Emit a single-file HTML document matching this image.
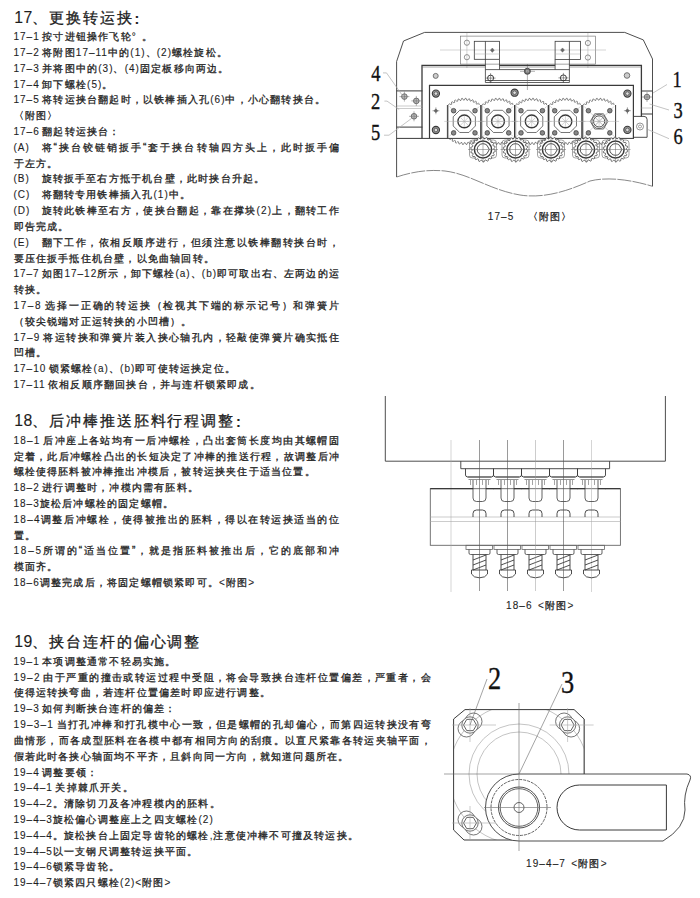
<!DOCTYPE html>
<html><head><meta charset="utf-8">
<style>
html,body{margin:0;padding:0;background:#fff;width:700px;height:898px;overflow:hidden}
svg{display:block}
text{font-family:"Liberation Sans",sans-serif;font-size:10px;letter-spacing:1px;word-spacing:-1.3px;fill:#1e1e1e;white-space:pre;stroke:#1e1e1e;stroke-width:0.1px}
.c{stroke:#1e1e1e;stroke-width:0.3px;letter-spacing:1.2px}
text.t{font-size:15px;letter-spacing:1.9px}
text.t:not(:has(tspan)){letter-spacing:0.4px;font-size:15.8px}
text.t .c{stroke-width:0.3px;letter-spacing:1.9px}
text.cap{font-size:10px;letter-spacing:1.1px;word-spacing:1.5px}
</style></head><body>
<svg width="700" height="898" viewBox="0 0 700 898">
<rect width="700" height="898" fill="#fff"/>
<text x="14.3" y="22.90" class="t">17</text>
<text x="32.3" y="22.90" class="t"><tspan class="c">、更换转运挟</tspan><tspan dx="0.8" dy="1" style="font-weight:bold;font-size:14.5px">:</tspan></text>
<text x="13.5" y="40.07">17–1 <tspan class="c">按寸进钮操作飞轮</tspan>°  <tspan class="c">。</tspan></text>
<text x="13.5" y="55.89">17–2 <tspan class="c">将附图</tspan>17–11<tspan class="c">中的</tspan>(1)<tspan class="c">、</tspan>(2)<tspan class="c">螺栓旋松。</tspan></text>
<text x="13.5" y="71.71">17–3 <tspan class="c">并将图中的</tspan>(3)<tspan class="c">、</tspan>(4)<tspan class="c">固定板移向两边。</tspan></text>
<text x="13.5" y="87.53">17–4 <tspan class="c">卸下螺栓</tspan>(5)<tspan class="c">。</tspan></text>
<text x="13.5" y="103.35">17–5 <tspan class="c">将转运挟台翻起时，以铁棒插入孔</tspan>(6)<tspan class="c">中，小心翻转挟台。</tspan></text>
<text x="13.5" y="119.17"><tspan class="c">〈附图〉</tspan></text>
<text x="13.5" y="134.99">17–6 <tspan class="c">翻起转运挟台：</tspan></text>
<text x="13.5" y="150.81">(A)</text>
<text x="41.5" y="150.81" textLength="298.5" lengthAdjust="spacing"><tspan class="c">将“挟台铰链销扳手“套于挟台转轴四方头上，此时扳手偏</tspan></text>
<text x="13.5" y="166.63"><tspan class="c">于左方。</tspan></text>
<text x="13.5" y="182.45">(B)</text>
<text x="41.5" y="182.45"><tspan class="c">旋转扳手至右方抵于机台壁，此时挟台升起。</tspan></text>
<text x="13.5" y="198.27">(C)</text>
<text x="41.5" y="198.27"><tspan class="c">将翻转专用铁棒插入孔</tspan>(1)<tspan class="c">中。</tspan></text>
<text x="13.5" y="214.09">(D)</text>
<text x="41.5" y="214.09" textLength="298.5" lengthAdjust="spacing"><tspan class="c">旋转此铁棒至右方，使挟台翻起，靠在撑块</tspan>(2)<tspan class="c">上，翻转工作</tspan></text>
<text x="13.5" y="229.91"><tspan class="c">即告完成。</tspan></text>
<text x="13.5" y="245.73">(E)</text>
<text x="41.5" y="245.73" textLength="298.5" lengthAdjust="spacing"><tspan class="c">翻下工作，依相反顺序进行，但须注意以铁棒翻转挟台时，</tspan></text>
<text x="13.5" y="261.55"><tspan class="c">要压住扳手抵住机台壁，以免曲轴回转。</tspan></text>
<text x="13.5" y="277.37" textLength="326.5" lengthAdjust="spacing">17–7 <tspan class="c">如图</tspan>17–12<tspan class="c">所示，卸下螺栓</tspan>(a)<tspan class="c">、</tspan>(b)<tspan class="c">即可取出右、左两边的运</tspan></text>
<text x="13.5" y="293.19"><tspan class="c">转挟。</tspan></text>
<text x="13.5" y="309.01" textLength="326.5" lengthAdjust="spacing">17–8 <tspan class="c">选择一正确的转运挟（检视其下端的标示记号）和弹簧片</tspan></text>
<text x="13.5" y="324.83"><tspan class="c">（较尖锐端对正运转挟的小凹槽）。</tspan></text>
<text x="13.5" y="340.65" textLength="326.5" lengthAdjust="spacing">17–9 <tspan class="c">将运转挟和弹簧片装入挟心轴孔内，轻敲使弹簧片确实抵住</tspan></text>
<text x="13.5" y="356.47"><tspan class="c">凹槽。</tspan></text>
<text x="13.5" y="372.29">17–10 <tspan class="c">锁紧螺栓</tspan>(a)<tspan class="c">、</tspan>(b)<tspan class="c">即可使转运挟定位。</tspan></text>
<text x="13.5" y="388.11">17–11 <tspan class="c">依相反顺序翻回挟台，并与连杆锁紧即成。</tspan></text>
<text x="14.3" y="426.05" class="t">18</text>
<text x="32.3" y="426.05" class="t"><tspan class="c">、后冲棒推送胚料行程调整</tspan><tspan dx="0.8" dy="1" style="font-weight:bold;font-size:14.5px">:</tspan></text>
<text x="13.5" y="443.75" textLength="326.5" lengthAdjust="spacing">18–1 <tspan class="c">后冲座上各站均有一后冲螺栓，凸出套筒长度均由其螺帽固</tspan></text>
<text x="13.5" y="459.57" textLength="326.5" lengthAdjust="spacing"><tspan class="c">定着，此后冲螺栓凸出的长短决定了冲棒的推送行程，故调整后冲</tspan></text>
<text x="13.5" y="475.39"><tspan class="c">螺栓使得胚料被冲棒推出冲模后，被转运挟夹住于适当位置。</tspan></text>
<text x="13.5" y="491.21">18–2 <tspan class="c">进行调整时，冲模内需有胚料。</tspan></text>
<text x="13.5" y="507.03">18–3<tspan class="c">旋松后冲螺栓的固定螺帽。</tspan></text>
<text x="13.5" y="522.85" textLength="326.5" lengthAdjust="spacing">18–4<tspan class="c">调整后冲螺栓，使得被推出的胚料，得以在转运挟适当的位</tspan></text>
<text x="13.5" y="538.67"><tspan class="c">置。</tspan></text>
<text x="13.5" y="554.49" textLength="326.5" lengthAdjust="spacing">18–5<tspan class="c">所谓的“适当位置”，就是指胚料被推出后，它的底部和冲</tspan></text>
<text x="13.5" y="570.31"><tspan class="c">模面齐。</tspan></text>
<text x="13.5" y="586.13">18–6<tspan class="c">调整完成后，将固定螺帽锁紧即可。</tspan>&lt;<tspan class="c">附图</tspan>&gt;</text>
<text x="14.3" y="647.40" class="t">19</text>
<text x="32.3" y="647.40" class="t"><tspan class="c">、挟台连杆的偏心调整</tspan></text>
<text x="13.5" y="664.80">19–1 <tspan class="c">本项调整通常不轻易实施。</tspan></text>
<text x="13.5" y="680.62" textLength="418.5" lengthAdjust="spacing">19–2 <tspan class="c">由于严重的撞击或转运过程中受阻，将会导致挟台连杆位置偏差，严重者，会</tspan></text>
<text x="13.5" y="696.44"><tspan class="c">使得运转挟弯曲，若连杆位置偏差时即应进行调整。</tspan></text>
<text x="13.5" y="712.26">19–3 <tspan class="c">如何判断挟台连杆的偏差：</tspan></text>
<text x="13.5" y="728.08" textLength="418.5" lengthAdjust="spacing">19–3–1 <tspan class="c">当打孔冲棒和打孔模中心一致，但是螺帽的孔却偏心，而第四运转挟没有弯</tspan></text>
<text x="13.5" y="743.90" textLength="418.5" lengthAdjust="spacing"><tspan class="c">曲情形，而各成型胚料在各模中都有相同方向的刮痕。以直尺紧靠各转运夹轴平面，</tspan></text>
<text x="13.5" y="759.72"><tspan class="c">假若此时各挟心轴面均不平齐，且斜向同一方向，就知道问题所在。</tspan></text>
<text x="13.5" y="775.54">19–4 <tspan class="c">调整要领：</tspan></text>
<text x="13.5" y="791.36">19–4–1 <tspan class="c">关掉棘爪开关。</tspan></text>
<text x="13.5" y="807.18">19–4–2<tspan class="c">。清除切刀及各冲程模内的胚料。</tspan></text>
<text x="13.5" y="823.00">19–4–3<tspan class="c">旋松偏心调整座上之四支螺栓</tspan>(2)</text>
<text x="13.5" y="838.82">19–4–4<tspan class="c">。旋松挟台上固定导齿轮的螺栓</tspan>,<tspan class="c">注意使冲棒不可撞及转运挟。</tspan></text>
<text x="13.5" y="854.64">19–4–5<tspan class="c">以一支钢尺调整转运挟平面。</tspan></text>
<text x="13.5" y="870.46">19–4–6<tspan class="c">锁紧导齿轮。</tspan></text>
<text x="13.5" y="886.28">19–4–7<tspan class="c">锁紧四只螺栓</tspan>(2)&lt;<tspan class="c">附图</tspan>&gt;</text>
<text x="487.8" y="219.7" class="cap">17–5</text>
<text x="527.5" y="219.7" class="cap"><tspan class="c">〈附图〉</tspan></text>
<text x="506" y="608.6" class="cap">18–6 &lt;<tspan class="c">附图</tspan>&gt;</text>
<text x="526" y="867.1" class="cap">19–4–7 &lt;<tspan class="c">附图</tspan>&gt;</text>
<g fill="none" stroke="#3a3a3a" stroke-width="0.9">
<path d="M396.6,177 V61.5 L403.5,41 L424.6,32.4 H624.7 L643.3,39.9 L652.5,59 V186.3"/>
<path d="M396.6,177 C415,171 430,169.5 445,171 C470,174 490,190 520,195 C545,199 570,190 590,181 C610,176 635,181 652.5,186.3" stroke="#555" stroke-width="0.7" stroke-dasharray="14 1.2"/>
<rect x="460.6" y="36.1" width="134.8" height="28" stroke="#666" stroke-width="0.6"/>
<path d="M440,50 H606 M466.9,33 V68 M587.9,33 V68" stroke="#aaa" stroke-width="0.5"/>
<circle cx="466.9" cy="42.7" r="2.6" stroke="#666" stroke-width="0.7"/>
<circle cx="466.9" cy="57.2" r="2.6" stroke="#666" stroke-width="0.7"/>
<circle cx="587.9" cy="43" r="2.6" stroke="#666" stroke-width="0.7"/>
<circle cx="587.9" cy="57.5" r="2.6" stroke="#666" stroke-width="0.7"/>
<rect x="474.3" y="41.3" width="25.2" height="18" stroke-width="0.8"/>
<rect x="555.1" y="41.3" width="25.4" height="18.1" stroke-width="0.8"/>
<path d="M485.4,41.3 V82.5 M499.5,59.3 V69.6 M555.1,59.4 V69.6 M569.4,41.3 V82.5" stroke-width="0.8"/>
<path d="M474.3,54 H499.5 M555.1,54 H580.5" stroke="#aaa" stroke-width="0.5"/>
<path d="M490.3,50.2 L492.3,48.0 L494.3,50.2 L492.3,52.400000000000006Z" fill="#666" stroke="#666" stroke-width="0.4"/>
<path d="M560.5,50.1 L562.5,47.9 L564.5,50.1 L562.5,52.300000000000004Z" fill="#666" stroke="#666" stroke-width="0.4"/>
<path d="M485.4,69.6 H569.4 M485.4,82.5 H569.4 M485.4,80.5 H569.4" stroke-width="0.8"/>
<circle cx="490.6" cy="78.1" r="3" stroke-width="1"/><path d="M485.6,78.1 H495.6 M490.6,73.1 V83.1" stroke-width="0.5"/>
<circle cx="563.4" cy="77.9" r="3" stroke-width="1"/><path d="M558.4,77.9 H568.4 M563.4,72.9 V82.9" stroke-width="0.5"/>
<circle cx="527.4" cy="71.3" r="3" fill="#777" stroke-width="0.9"/><circle cx="527.4" cy="71.3" r="1.3" fill="#ddd" stroke="none"/><path d="M520,71.3 H535 M527.4,64 V90" stroke="#666" stroke-width="0.5"/>
<path d="M422,138.4 V65.3 H485.4 M499.5,65.3 H555.1 M569.4,65.3 H641.4 V116.4" stroke-width="1.3"/>
<path d="M422,67 H485.4 M499.5,67 H555.1 M569.4,67 H641.4" stroke="#666" stroke-width="0.6"/>
<circle cx="435.7" cy="75.9" r="2.5" stroke="#666" stroke-width="0.9" fill="#ccc"/>
<circle cx="627" cy="75.5" r="2.8" stroke="#666" stroke-width="0.9" fill="#ccc"/>
<path d="M429.5,138.3 V85.3 H633.4 V138.3" stroke-width="1.2"/>
<circle cx="435.9" cy="93.6" r="3.6" stroke-width="1.1" fill="#999"/><circle cx="435.9" cy="93.6" r="1.8" stroke="#333" stroke-width="0.6" fill="#ddd"/>
<circle cx="435.9" cy="130" r="3.6" stroke-width="1.1" fill="#999"/><circle cx="435.9" cy="130" r="1.8" stroke="#333" stroke-width="0.6" fill="#ddd"/>
<circle cx="627.4" cy="93.6" r="3.6" stroke-width="1.1" fill="#999"/><circle cx="627.4" cy="93.6" r="1.8" stroke="#333" stroke-width="0.6" fill="#ddd"/>
<circle cx="627.4" cy="129.9" r="3.6" stroke-width="1.1" fill="#999"/><circle cx="627.4" cy="129.9" r="1.8" stroke="#333" stroke-width="0.6" fill="#ddd"/>
<circle cx="514.6" cy="92.7" r="3.6" stroke-width="1.1" fill="#999"/><circle cx="514.6" cy="92.7" r="1.8" stroke="#333" stroke-width="0.6" fill="#ddd"/>
<path d="M433.9,110.8 L435.9,108.8 L437.9,110.8 L435.9,112.8Z M432.4,110.8 H439.4 M435.9,107.3 V114.3" fill="#666" stroke="#666" stroke-width="0.5"/>
<path d="M625.4,110.7 L627.4,108.7 L629.4,110.7 L627.4,112.7Z M623.9,110.7 H630.9 M627.4,107.2 V114.2" fill="#666" stroke="#666" stroke-width="0.5"/>
<path d="M396.6,90.9 H422.4 M396.6,127.1 H422.4 M396.6,138.4 H634 M641.4,91 H652.5 M641.4,114 H652.5" stroke-width="1"/>
<path d="M396.6,106 H422.4 M396.6,108.5 H422.4 M641.4,108 H652.5" stroke="#aaa" stroke-width="0.6"/>
<circle cx="404.4" cy="96.6" r="2.8" stroke="#666" stroke-width="0.9" fill="#bbb"/><path d="M399.4,96.6 H409.4 M404.4,91.6 V101.6" stroke="#666" stroke-width="0.5"/>
<circle cx="416.3" cy="100.9" r="2.8" stroke="#666" stroke-width="0.9" fill="#bbb"/><path d="M411.3,100.9 H421.3 M416.3,95.9 V105.9" stroke="#666" stroke-width="0.5"/>
<circle cx="414" cy="116.3" r="2.8" stroke="#666" stroke-width="0.9" fill="#bbb"/><path d="M409,116.3 H419 M414,111.3 V121.3" stroke="#666" stroke-width="0.5"/>
<circle cx="647" cy="97" r="2.8" stroke="#666" stroke-width="0.9" fill="#bbb"/><path d="M642,97 H652 M647,92 V102" stroke="#666" stroke-width="0.5"/>
<path d="M634,116.4 H644 Q647.1,116.4 647.1,119.5 V137.3 H634" stroke-width="0.9"/>
<circle cx="640" cy="126.5" r="3.5" stroke="#666" stroke-width="0.7"/><circle cx="640" cy="126.5" r="1.5" stroke="#666" stroke-width="0.6"/>
</g>
<defs><clipPath id="gclip"><rect x="440" y="90" width="200" height="15"/><rect x="440" y="138.5" width="200" height="12"/></clipPath></defs>
<g fill="none" stroke="#3a3a3a">
<path d="M485.6,121.4 L487.38,122.31 L487.33,123.21 L485.45,123.9 L485.34,124.73 L486.96,125.91 L486.76,126.79 L484.8,127.18 L484.56,127.98 L485.97,129.4 L485.64,130.24 L483.64,130.32 L483.28,131.07 L484.45,132.69 L484,133.47 L482.01,133.23 L481.53,133.92 L482.44,135.7 L481.87,136.4 L479.94,135.86 L479.36,136.46 L479.98,138.36 L479.3,138.97 L477.49,138.13 L476.82,138.63 L477.13,140.61 L476.37,141.1 L474.71,139.98 L473.97,140.38 L473.97,142.38 L473.14,142.74 L471.67,141.38 L470.88,141.66 L470.57,143.63 L469.69,143.86 L468.46,142.29 L467.63,142.44 L467.02,144.34 L466.11,144.43 L465.14,142.68 L464.3,142.7 L463.39,144.48 L462.49,144.43 L461.8,142.55 L460.97,142.44 L459.79,144.06 L458.91,143.86 L458.52,141.9 L457.72,141.66 L456.3,143.07 L455.46,142.74 L455.38,140.74 L454.63,140.38 L453.01,141.55 L452.23,141.1 L452.47,139.11 L451.78,138.63 L450,139.54 L449.3,138.97 L449.84,137.04 L449.24,136.46 L447.34,137.08 L446.73,136.4 L447.57,134.59 L447.07,133.92 L445.09,134.23 L444.6,133.47 L445.72,131.81 L445.32,131.07 L443.32,131.07 L442.96,130.24 L444.32,128.77 L444.04,127.98 L442.07,127.67 L441.84,126.79 L443.41,125.56 L443.26,124.73 L441.36,124.12 L441.27,123.21 L443.02,122.24 L443,121.4 L441.22,120.49 L441.27,119.59 L443.15,118.9 L443.26,118.07 L441.64,116.89 L441.84,116.01 L443.8,115.62 L444.04,114.82 L442.63,113.4 L442.96,112.56 L444.96,112.48 L445.32,111.73 L444.15,110.11 L444.6,109.33 L446.59,109.57 L447.07,108.88 L446.16,107.1 L446.73,106.4 L448.66,106.94 L449.24,106.34 L448.62,104.44 L449.3,103.83 L451.11,104.67 L451.78,104.17 L451.47,102.19 L452.23,101.7 L453.89,102.82 L454.63,102.42 L454.63,100.42 L455.46,100.06 L456.93,101.42 L457.72,101.14 L458.03,99.17 L458.91,98.94 L460.14,100.51 L460.97,100.36 L461.58,98.46 L462.49,98.37 L463.46,100.12 L464.3,100.1 L465.21,98.32 L466.11,98.37 L466.8,100.25 L467.63,100.36 L468.81,98.74 L469.69,98.94 L470.08,100.9 L470.88,101.14 L472.3,99.73 L473.14,100.06 L473.22,102.06 L473.97,102.42 L475.59,101.25 L476.37,101.7 L476.13,103.69 L476.82,104.17 L478.6,103.26 L479.3,103.83 L478.76,105.76 L479.36,106.34 L481.26,105.72 L481.87,106.4 L481.03,108.21 L481.53,108.88 L483.51,108.57 L484,109.33 L482.88,110.99 L483.28,111.73 L485.28,111.73 L485.64,112.56 L484.28,114.03 L484.56,114.82 L486.53,115.13 L486.76,116.01 L485.19,117.24 L485.34,118.07 L487.24,118.68 L487.33,119.59 L485.58,120.56Z" stroke-width="0.6" clip-path="url(#gclip)"/>
<path d="M447.4,105 V138.3 M480.8,105 V138.3" stroke-width="1"/>
<path d="M448.4,105 V138.3" stroke="#666" stroke-width="0.5"/>
<path d="M449.3,106.4 L479.3,136.4 M479.3,106.4 L449.3,136.4" stroke="#aaa" stroke-width="0.5"/>
<polygon points="475.39,125.99 468.89,132.49 459.71,132.49 453.21,125.99 453.21,116.81 459.71,110.31 468.89,110.31 475.39,116.81" stroke-width="0.7" fill="#fff"/>
<circle cx="464.3" cy="121.4" r="6.4" stroke-width="1.4"/>
<path d="M464.3,121.4 L469.8,121.4 M464.3,121.4 L468.19,125.29 M464.3,121.4 L464.3,126.9 M464.3,121.4 L460.41,125.29 M464.3,121.4 L458.8,121.4 M464.3,121.4 L460.41,117.51 M464.3,121.4 L464.3,115.9 M464.3,121.4 L468.19,117.51" stroke="#aaa" stroke-width="0.5"/>
<path d="M444.3,121.4 H484.3" stroke="#aaa" stroke-width="0.5"/>
<circle cx="453.6" cy="110.7" r="2.3" fill="#888" stroke="#333" stroke-width="0.7"/>
<circle cx="475" cy="110.7" r="2.3" fill="#888" stroke="#333" stroke-width="0.7"/>
<circle cx="453.6" cy="132.9" r="2.3" fill="#888" stroke="#333" stroke-width="0.7"/>
<circle cx="475" cy="132.9" r="2.3" fill="#888" stroke="#333" stroke-width="0.7"/>
</g>
<g fill="none" stroke="#3a3a3a">
<path d="M519.3,121.4 L521.08,122.31 L521.03,123.21 L519.15,123.9 L519.04,124.73 L520.66,125.91 L520.46,126.79 L518.5,127.18 L518.26,127.98 L519.67,129.4 L519.34,130.24 L517.34,130.32 L516.98,131.07 L518.15,132.69 L517.7,133.47 L515.71,133.23 L515.23,133.92 L516.14,135.7 L515.57,136.4 L513.64,135.86 L513.06,136.46 L513.68,138.36 L513,138.97 L511.19,138.13 L510.52,138.63 L510.83,140.61 L510.07,141.1 L508.41,139.98 L507.67,140.38 L507.67,142.38 L506.84,142.74 L505.37,141.38 L504.58,141.66 L504.27,143.63 L503.39,143.86 L502.16,142.29 L501.33,142.44 L500.72,144.34 L499.81,144.43 L498.84,142.68 L498,142.7 L497.09,144.48 L496.19,144.43 L495.5,142.55 L494.67,142.44 L493.49,144.06 L492.61,143.86 L492.22,141.9 L491.42,141.66 L490,143.07 L489.16,142.74 L489.08,140.74 L488.33,140.38 L486.71,141.55 L485.93,141.1 L486.17,139.11 L485.48,138.63 L483.7,139.54 L483,138.97 L483.54,137.04 L482.94,136.46 L481.04,137.08 L480.43,136.4 L481.27,134.59 L480.77,133.92 L478.79,134.23 L478.3,133.47 L479.42,131.81 L479.02,131.07 L477.02,131.07 L476.66,130.24 L478.02,128.77 L477.74,127.98 L475.77,127.67 L475.54,126.79 L477.11,125.56 L476.96,124.73 L475.06,124.12 L474.97,123.21 L476.72,122.24 L476.7,121.4 L474.92,120.49 L474.97,119.59 L476.85,118.9 L476.96,118.07 L475.34,116.89 L475.54,116.01 L477.5,115.62 L477.74,114.82 L476.33,113.4 L476.66,112.56 L478.66,112.48 L479.02,111.73 L477.85,110.11 L478.3,109.33 L480.29,109.57 L480.77,108.88 L479.86,107.1 L480.43,106.4 L482.36,106.94 L482.94,106.34 L482.32,104.44 L483,103.83 L484.81,104.67 L485.48,104.17 L485.17,102.19 L485.93,101.7 L487.59,102.82 L488.33,102.42 L488.33,100.42 L489.16,100.06 L490.63,101.42 L491.42,101.14 L491.73,99.17 L492.61,98.94 L493.84,100.51 L494.67,100.36 L495.28,98.46 L496.19,98.37 L497.16,100.12 L498,100.1 L498.91,98.32 L499.81,98.37 L500.5,100.25 L501.33,100.36 L502.51,98.74 L503.39,98.94 L503.78,100.9 L504.58,101.14 L506,99.73 L506.84,100.06 L506.92,102.06 L507.67,102.42 L509.29,101.25 L510.07,101.7 L509.83,103.69 L510.52,104.17 L512.3,103.26 L513,103.83 L512.46,105.76 L513.06,106.34 L514.96,105.72 L515.57,106.4 L514.73,108.21 L515.23,108.88 L517.21,108.57 L517.7,109.33 L516.58,110.99 L516.98,111.73 L518.98,111.73 L519.34,112.56 L517.98,114.03 L518.26,114.82 L520.23,115.13 L520.46,116.01 L518.89,117.24 L519.04,118.07 L520.94,118.68 L521.03,119.59 L519.28,120.56Z" stroke-width="0.6" clip-path="url(#gclip)"/>
<path d="M481.1,105 V138.3 M514.5,105 V138.3" stroke-width="1"/>
<path d="M482.1,105 V138.3" stroke="#666" stroke-width="0.5"/>
<path d="M483,106.4 L513,136.4 M513,106.4 L483,136.4" stroke="#aaa" stroke-width="0.5"/>
<polygon points="509.09,125.99 502.59,132.49 493.41,132.49 486.91,125.99 486.91,116.81 493.41,110.31 502.59,110.31 509.09,116.81" stroke-width="0.7" fill="#fff"/>
<circle cx="498" cy="121.4" r="6.4" stroke-width="1.4"/>
<path d="M498,121.4 L503.5,121.4 M498,121.4 L501.89,125.29 M498,121.4 L498,126.9 M498,121.4 L494.11,125.29 M498,121.4 L492.5,121.4 M498,121.4 L494.11,117.51 M498,121.4 L498,115.9 M498,121.4 L501.89,117.51" stroke="#aaa" stroke-width="0.5"/>
<path d="M478,121.4 H518" stroke="#aaa" stroke-width="0.5"/>
<circle cx="487.3" cy="110.7" r="2.3" fill="#888" stroke="#333" stroke-width="0.7"/>
<circle cx="508.7" cy="110.7" r="2.3" fill="#888" stroke="#333" stroke-width="0.7"/>
<circle cx="487.3" cy="132.9" r="2.3" fill="#888" stroke="#333" stroke-width="0.7"/>
<circle cx="508.7" cy="132.9" r="2.3" fill="#888" stroke="#333" stroke-width="0.7"/>
</g>
<g fill="none" stroke="#3a3a3a">
<path d="M553,121.4 L554.78,122.31 L554.73,123.21 L552.85,123.9 L552.74,124.73 L554.36,125.91 L554.16,126.79 L552.2,127.18 L551.96,127.98 L553.37,129.4 L553.04,130.24 L551.04,130.32 L550.68,131.07 L551.85,132.69 L551.4,133.47 L549.41,133.23 L548.93,133.92 L549.84,135.7 L549.27,136.4 L547.34,135.86 L546.76,136.46 L547.38,138.36 L546.7,138.97 L544.89,138.13 L544.22,138.63 L544.53,140.61 L543.77,141.1 L542.11,139.98 L541.37,140.38 L541.37,142.38 L540.54,142.74 L539.07,141.38 L538.28,141.66 L537.97,143.63 L537.09,143.86 L535.86,142.29 L535.03,142.44 L534.42,144.34 L533.51,144.43 L532.54,142.68 L531.7,142.7 L530.79,144.48 L529.89,144.43 L529.2,142.55 L528.37,142.44 L527.19,144.06 L526.31,143.86 L525.92,141.9 L525.12,141.66 L523.7,143.07 L522.86,142.74 L522.78,140.74 L522.03,140.38 L520.41,141.55 L519.63,141.1 L519.87,139.11 L519.18,138.63 L517.4,139.54 L516.7,138.97 L517.24,137.04 L516.64,136.46 L514.74,137.08 L514.13,136.4 L514.97,134.59 L514.47,133.92 L512.49,134.23 L512,133.47 L513.12,131.81 L512.72,131.07 L510.72,131.07 L510.36,130.24 L511.72,128.77 L511.44,127.98 L509.47,127.67 L509.24,126.79 L510.81,125.56 L510.66,124.73 L508.76,124.12 L508.67,123.21 L510.42,122.24 L510.4,121.4 L508.62,120.49 L508.67,119.59 L510.55,118.9 L510.66,118.07 L509.04,116.89 L509.24,116.01 L511.2,115.62 L511.44,114.82 L510.03,113.4 L510.36,112.56 L512.36,112.48 L512.72,111.73 L511.55,110.11 L512,109.33 L513.99,109.57 L514.47,108.88 L513.56,107.1 L514.13,106.4 L516.06,106.94 L516.64,106.34 L516.02,104.44 L516.7,103.83 L518.51,104.67 L519.18,104.17 L518.87,102.19 L519.63,101.7 L521.29,102.82 L522.03,102.42 L522.03,100.42 L522.86,100.06 L524.33,101.42 L525.12,101.14 L525.43,99.17 L526.31,98.94 L527.54,100.51 L528.37,100.36 L528.98,98.46 L529.89,98.37 L530.86,100.12 L531.7,100.1 L532.61,98.32 L533.51,98.37 L534.2,100.25 L535.03,100.36 L536.21,98.74 L537.09,98.94 L537.48,100.9 L538.28,101.14 L539.7,99.73 L540.54,100.06 L540.62,102.06 L541.37,102.42 L542.99,101.25 L543.77,101.7 L543.53,103.69 L544.22,104.17 L546,103.26 L546.7,103.83 L546.16,105.76 L546.76,106.34 L548.66,105.72 L549.27,106.4 L548.43,108.21 L548.93,108.88 L550.91,108.57 L551.4,109.33 L550.28,110.99 L550.68,111.73 L552.68,111.73 L553.04,112.56 L551.68,114.03 L551.96,114.82 L553.93,115.13 L554.16,116.01 L552.59,117.24 L552.74,118.07 L554.64,118.68 L554.73,119.59 L552.98,120.56Z" stroke-width="0.6" clip-path="url(#gclip)"/>
<path d="M514.8,105 V138.3 M548.2,105 V138.3" stroke-width="1"/>
<path d="M515.8,105 V138.3" stroke="#666" stroke-width="0.5"/>
<path d="M516.7,106.4 L546.7,136.4 M546.7,106.4 L516.7,136.4" stroke="#aaa" stroke-width="0.5"/>
<polygon points="542.79,125.99 536.29,132.49 527.11,132.49 520.61,125.99 520.61,116.81 527.11,110.31 536.29,110.31 542.79,116.81" stroke-width="0.7" fill="#fff"/>
<circle cx="531.7" cy="121.4" r="6.4" stroke-width="1.4"/>
<path d="M531.7,121.4 L537.2,121.4 M531.7,121.4 L535.59,125.29 M531.7,121.4 L531.7,126.9 M531.7,121.4 L527.81,125.29 M531.7,121.4 L526.2,121.4 M531.7,121.4 L527.81,117.51 M531.7,121.4 L531.7,115.9 M531.7,121.4 L535.59,117.51" stroke="#aaa" stroke-width="0.5"/>
<path d="M511.7,121.4 H551.7" stroke="#aaa" stroke-width="0.5"/>
<circle cx="521" cy="110.7" r="2.3" fill="#888" stroke="#333" stroke-width="0.7"/>
<circle cx="542.4" cy="110.7" r="2.3" fill="#888" stroke="#333" stroke-width="0.7"/>
<circle cx="521" cy="132.9" r="2.3" fill="#888" stroke="#333" stroke-width="0.7"/>
<circle cx="542.4" cy="132.9" r="2.3" fill="#888" stroke="#333" stroke-width="0.7"/>
</g>
<g fill="none" stroke="#3a3a3a">
<path d="M586.7,121.4 L588.48,122.31 L588.43,123.21 L586.55,123.9 L586.44,124.73 L588.06,125.91 L587.86,126.79 L585.9,127.18 L585.66,127.98 L587.07,129.4 L586.74,130.24 L584.74,130.32 L584.38,131.07 L585.55,132.69 L585.1,133.47 L583.11,133.23 L582.63,133.92 L583.54,135.7 L582.97,136.4 L581.04,135.86 L580.46,136.46 L581.08,138.36 L580.4,138.97 L578.59,138.13 L577.92,138.63 L578.23,140.61 L577.47,141.1 L575.81,139.98 L575.07,140.38 L575.07,142.38 L574.24,142.74 L572.77,141.38 L571.98,141.66 L571.67,143.63 L570.79,143.86 L569.56,142.29 L568.73,142.44 L568.12,144.34 L567.21,144.43 L566.24,142.68 L565.4,142.7 L564.49,144.48 L563.59,144.43 L562.9,142.55 L562.07,142.44 L560.89,144.06 L560.01,143.86 L559.62,141.9 L558.82,141.66 L557.4,143.07 L556.56,142.74 L556.48,140.74 L555.73,140.38 L554.11,141.55 L553.33,141.1 L553.57,139.11 L552.88,138.63 L551.1,139.54 L550.4,138.97 L550.94,137.04 L550.34,136.46 L548.44,137.08 L547.83,136.4 L548.67,134.59 L548.17,133.92 L546.19,134.23 L545.7,133.47 L546.82,131.81 L546.42,131.07 L544.42,131.07 L544.06,130.24 L545.42,128.77 L545.14,127.98 L543.17,127.67 L542.94,126.79 L544.51,125.56 L544.36,124.73 L542.46,124.12 L542.37,123.21 L544.12,122.24 L544.1,121.4 L542.32,120.49 L542.37,119.59 L544.25,118.9 L544.36,118.07 L542.74,116.89 L542.94,116.01 L544.9,115.62 L545.14,114.82 L543.73,113.4 L544.06,112.56 L546.06,112.48 L546.42,111.73 L545.25,110.11 L545.7,109.33 L547.69,109.57 L548.17,108.88 L547.26,107.1 L547.83,106.4 L549.76,106.94 L550.34,106.34 L549.72,104.44 L550.4,103.83 L552.21,104.67 L552.88,104.17 L552.57,102.19 L553.33,101.7 L554.99,102.82 L555.73,102.42 L555.73,100.42 L556.56,100.06 L558.03,101.42 L558.82,101.14 L559.13,99.17 L560.01,98.94 L561.24,100.51 L562.07,100.36 L562.68,98.46 L563.59,98.37 L564.56,100.12 L565.4,100.1 L566.31,98.32 L567.21,98.37 L567.9,100.25 L568.73,100.36 L569.91,98.74 L570.79,98.94 L571.18,100.9 L571.98,101.14 L573.4,99.73 L574.24,100.06 L574.32,102.06 L575.07,102.42 L576.69,101.25 L577.47,101.7 L577.23,103.69 L577.92,104.17 L579.7,103.26 L580.4,103.83 L579.86,105.76 L580.46,106.34 L582.36,105.72 L582.97,106.4 L582.13,108.21 L582.63,108.88 L584.61,108.57 L585.1,109.33 L583.98,110.99 L584.38,111.73 L586.38,111.73 L586.74,112.56 L585.38,114.03 L585.66,114.82 L587.63,115.13 L587.86,116.01 L586.29,117.24 L586.44,118.07 L588.34,118.68 L588.43,119.59 L586.68,120.56Z" stroke-width="0.6" clip-path="url(#gclip)"/>
<path d="M548.5,105 V138.3 M581.9,105 V138.3" stroke-width="1"/>
<path d="M549.5,105 V138.3" stroke="#666" stroke-width="0.5"/>
<path d="M550.4,106.4 L580.4,136.4 M580.4,106.4 L550.4,136.4" stroke="#aaa" stroke-width="0.5"/>
<polygon points="576.49,125.99 569.99,132.49 560.81,132.49 554.31,125.99 554.31,116.81 560.81,110.31 569.99,110.31 576.49,116.81" stroke-width="0.7" fill="#fff"/>
<circle cx="565.4" cy="121.4" r="6.4" stroke-width="1.4"/>
<path d="M565.4,121.4 L570.9,121.4 M565.4,121.4 L569.29,125.29 M565.4,121.4 L565.4,126.9 M565.4,121.4 L561.51,125.29 M565.4,121.4 L559.9,121.4 M565.4,121.4 L561.51,117.51 M565.4,121.4 L565.4,115.9 M565.4,121.4 L569.29,117.51" stroke="#aaa" stroke-width="0.5"/>
<path d="M545.4,121.4 H585.4" stroke="#aaa" stroke-width="0.5"/>
<circle cx="554.7" cy="110.7" r="2.3" fill="#888" stroke="#333" stroke-width="0.7"/>
<circle cx="576.1" cy="110.7" r="2.3" fill="#888" stroke="#333" stroke-width="0.7"/>
<circle cx="554.7" cy="132.9" r="2.3" fill="#888" stroke="#333" stroke-width="0.7"/>
<circle cx="576.1" cy="132.9" r="2.3" fill="#888" stroke="#333" stroke-width="0.7"/>
</g>
<g fill="none" stroke="#3a3a3a">
<path d="M620.4,121.4 L622.18,122.31 L622.13,123.21 L620.25,123.9 L620.14,124.73 L621.76,125.91 L621.56,126.79 L619.6,127.18 L619.36,127.98 L620.77,129.4 L620.44,130.24 L618.44,130.32 L618.08,131.07 L619.25,132.69 L618.8,133.47 L616.81,133.23 L616.33,133.92 L617.24,135.7 L616.67,136.4 L614.74,135.86 L614.16,136.46 L614.78,138.36 L614.1,138.97 L612.29,138.13 L611.62,138.63 L611.93,140.61 L611.17,141.1 L609.51,139.98 L608.77,140.38 L608.77,142.38 L607.94,142.74 L606.47,141.38 L605.68,141.66 L605.37,143.63 L604.49,143.86 L603.26,142.29 L602.43,142.44 L601.82,144.34 L600.91,144.43 L599.94,142.68 L599.1,142.7 L598.19,144.48 L597.29,144.43 L596.6,142.55 L595.77,142.44 L594.59,144.06 L593.71,143.86 L593.32,141.9 L592.52,141.66 L591.1,143.07 L590.26,142.74 L590.18,140.74 L589.43,140.38 L587.81,141.55 L587.03,141.1 L587.27,139.11 L586.58,138.63 L584.8,139.54 L584.1,138.97 L584.64,137.04 L584.04,136.46 L582.14,137.08 L581.53,136.4 L582.37,134.59 L581.87,133.92 L579.89,134.23 L579.4,133.47 L580.52,131.81 L580.12,131.07 L578.12,131.07 L577.76,130.24 L579.12,128.77 L578.84,127.98 L576.87,127.67 L576.64,126.79 L578.21,125.56 L578.06,124.73 L576.16,124.12 L576.07,123.21 L577.82,122.24 L577.8,121.4 L576.02,120.49 L576.07,119.59 L577.95,118.9 L578.06,118.07 L576.44,116.89 L576.64,116.01 L578.6,115.62 L578.84,114.82 L577.43,113.4 L577.76,112.56 L579.76,112.48 L580.12,111.73 L578.95,110.11 L579.4,109.33 L581.39,109.57 L581.87,108.88 L580.96,107.1 L581.53,106.4 L583.46,106.94 L584.04,106.34 L583.42,104.44 L584.1,103.83 L585.91,104.67 L586.58,104.17 L586.27,102.19 L587.03,101.7 L588.69,102.82 L589.43,102.42 L589.43,100.42 L590.26,100.06 L591.73,101.42 L592.52,101.14 L592.83,99.17 L593.71,98.94 L594.94,100.51 L595.77,100.36 L596.38,98.46 L597.29,98.37 L598.26,100.12 L599.1,100.1 L600.01,98.32 L600.91,98.37 L601.6,100.25 L602.43,100.36 L603.61,98.74 L604.49,98.94 L604.88,100.9 L605.68,101.14 L607.1,99.73 L607.94,100.06 L608.02,102.06 L608.77,102.42 L610.39,101.25 L611.17,101.7 L610.93,103.69 L611.62,104.17 L613.4,103.26 L614.1,103.83 L613.56,105.76 L614.16,106.34 L616.06,105.72 L616.67,106.4 L615.83,108.21 L616.33,108.88 L618.31,108.57 L618.8,109.33 L617.68,110.99 L618.08,111.73 L620.08,111.73 L620.44,112.56 L619.08,114.03 L619.36,114.82 L621.33,115.13 L621.56,116.01 L619.99,117.24 L620.14,118.07 L622.04,118.68 L622.13,119.59 L620.38,120.56Z" stroke-width="0.6" clip-path="url(#gclip)"/>
<path d="M582.2,105 V138.3 M615.6,105 V138.3" stroke-width="1"/>
<path d="M583.2,105 V138.3" stroke="#666" stroke-width="0.5"/>
<path d="M584.1,106.4 L614.1,136.4 M614.1,106.4 L584.1,136.4" stroke="#aaa" stroke-width="0.5"/>
<polygon points="607.9,121.4 603.5,129.02 594.7,129.02 590.3,121.4 594.7,113.78 603.5,113.78" stroke-width="0.7"/>
<circle cx="599.1" cy="121.4" r="7.2" stroke-width="0.7"/>
<circle cx="599.1" cy="121.4" r="5.6" stroke-width="0.9"/>
<path d="M599.1,121.4 L604.6,121.4 M599.1,121.4 L602.99,125.29 M599.1,121.4 L599.1,126.9 M599.1,121.4 L595.21,125.29 M599.1,121.4 L593.6,121.4 M599.1,121.4 L595.21,117.51 M599.1,121.4 L599.1,115.9 M599.1,121.4 L602.99,117.51" stroke="#aaa" stroke-width="0.5"/>
<path d="M579.1,121.4 H619.1" stroke="#aaa" stroke-width="0.5"/>
<circle cx="588.4" cy="110.7" r="2.3" fill="#888" stroke="#333" stroke-width="0.7"/>
<circle cx="609.8" cy="110.7" r="2.3" fill="#888" stroke="#333" stroke-width="0.7"/>
<circle cx="588.4" cy="132.9" r="2.3" fill="#888" stroke="#333" stroke-width="0.7"/>
<circle cx="609.8" cy="132.9" r="2.3" fill="#888" stroke="#333" stroke-width="0.7"/>
</g>
<g fill="none" stroke="#3a3a3a">
<rect x="469.5" y="140" width="27" height="18" rx="3" stroke="#666" stroke-width="0.6"/>
<path d="M493.8,149.5 L495.35,150.58 L495.21,151.65 L493.43,152.3 L493.15,153.19 L494.24,154.74 L493.74,155.7 L491.85,155.69 L491.27,156.44 L491.77,158.27 L490.97,159 L489.19,158.35 L488.4,158.85 L488.24,160.74 L487.24,161.15 L485.8,159.93 L484.88,160.14 L484.08,161.85 L483,161.9 L482.06,160.26 L481.12,160.14 L479.79,161.48 L478.76,161.15 L478.44,159.29 L477.6,158.85 L475.89,159.66 L475.03,159 L475.36,157.14 L474.73,156.44 L472.84,156.61 L472.26,155.7 L473.21,154.06 L472.85,153.19 L471.02,152.71 L470.79,151.65 L472.24,150.44 L472.2,149.5 L470.65,148.42 L470.79,147.35 L472.57,146.7 L472.85,145.81 L471.76,144.26 L472.26,143.3 L474.15,143.31 L474.73,142.56 L474.23,140.73 L475.03,140 L476.81,140.65 L477.6,140.15 L477.76,138.26 L478.76,137.85 L480.2,139.07 L481.12,138.86 L481.92,137.15 L483,137.1 L483.94,138.74 L484.88,138.86 L486.21,137.52 L487.24,137.85 L487.56,139.71 L488.4,140.15 L490.11,139.34 L490.97,140 L490.64,141.86 L491.27,142.56 L493.16,142.39 L493.74,143.3 L492.79,144.94 L493.15,145.81 L494.98,146.29 L495.21,147.35 L493.76,148.56Z" stroke-width="0.7" fill="#fff"/>
<circle cx="483" cy="149.5" r="8.6" stroke-width="1.5"/>
<path d="M487,145.3 A5.8,5.8 0 1 0 487,153.7 L489.3,149.5 Z" stroke-width="0.9"/>
<path d="M468,149.5 H498 M483,136.5 V162.5" stroke="#666" stroke-width="0.5"/>
</g>
<g fill="none" stroke="#3a3a3a">
<rect x="502" y="140" width="27" height="18" rx="3" stroke="#666" stroke-width="0.6"/>
<path d="M526.3,149.5 L527.85,150.58 L527.71,151.65 L525.93,152.3 L525.65,153.19 L526.74,154.74 L526.24,155.7 L524.35,155.69 L523.77,156.44 L524.27,158.27 L523.47,159 L521.69,158.35 L520.9,158.85 L520.74,160.74 L519.74,161.15 L518.3,159.93 L517.38,160.14 L516.58,161.85 L515.5,161.9 L514.56,160.26 L513.62,160.14 L512.29,161.48 L511.26,161.15 L510.94,159.29 L510.1,158.85 L508.39,159.66 L507.53,159 L507.86,157.14 L507.23,156.44 L505.34,156.61 L504.76,155.7 L505.71,154.06 L505.35,153.19 L503.52,152.71 L503.29,151.65 L504.74,150.44 L504.7,149.5 L503.15,148.42 L503.29,147.35 L505.07,146.7 L505.35,145.81 L504.26,144.26 L504.76,143.3 L506.65,143.31 L507.23,142.56 L506.73,140.73 L507.53,140 L509.31,140.65 L510.1,140.15 L510.26,138.26 L511.26,137.85 L512.7,139.07 L513.62,138.86 L514.42,137.15 L515.5,137.1 L516.44,138.74 L517.38,138.86 L518.71,137.52 L519.74,137.85 L520.06,139.71 L520.9,140.15 L522.61,139.34 L523.47,140 L523.14,141.86 L523.77,142.56 L525.66,142.39 L526.24,143.3 L525.29,144.94 L525.65,145.81 L527.48,146.29 L527.71,147.35 L526.26,148.56Z" stroke-width="0.7" fill="#fff"/>
<circle cx="515.5" cy="149.5" r="8.6" stroke-width="1.5"/>
<path d="M519.5,145.3 A5.8,5.8 0 1 0 519.5,153.7 L521.8,149.5 Z" stroke-width="0.9"/>
<path d="M500.5,149.5 H530.5 M515.5,136.5 V162.5" stroke="#666" stroke-width="0.5"/>
</g>
<g fill="none" stroke="#3a3a3a">
<rect x="537.5" y="140" width="27" height="18" rx="3" stroke="#666" stroke-width="0.6"/>
<path d="M561.8,149.5 L563.35,150.58 L563.21,151.65 L561.43,152.3 L561.15,153.19 L562.24,154.74 L561.74,155.7 L559.85,155.69 L559.27,156.44 L559.77,158.27 L558.97,159 L557.19,158.35 L556.4,158.85 L556.24,160.74 L555.24,161.15 L553.8,159.93 L552.88,160.14 L552.08,161.85 L551,161.9 L550.06,160.26 L549.12,160.14 L547.79,161.48 L546.76,161.15 L546.44,159.29 L545.6,158.85 L543.89,159.66 L543.03,159 L543.36,157.14 L542.73,156.44 L540.84,156.61 L540.26,155.7 L541.21,154.06 L540.85,153.19 L539.02,152.71 L538.79,151.65 L540.24,150.44 L540.2,149.5 L538.65,148.42 L538.79,147.35 L540.57,146.7 L540.85,145.81 L539.76,144.26 L540.26,143.3 L542.15,143.31 L542.73,142.56 L542.23,140.73 L543.03,140 L544.81,140.65 L545.6,140.15 L545.76,138.26 L546.76,137.85 L548.2,139.07 L549.12,138.86 L549.92,137.15 L551,137.1 L551.94,138.74 L552.88,138.86 L554.21,137.52 L555.24,137.85 L555.56,139.71 L556.4,140.15 L558.11,139.34 L558.97,140 L558.64,141.86 L559.27,142.56 L561.16,142.39 L561.74,143.3 L560.79,144.94 L561.15,145.81 L562.98,146.29 L563.21,147.35 L561.76,148.56Z" stroke-width="0.7" fill="#fff"/>
<circle cx="551" cy="149.5" r="8.6" stroke-width="1.5"/>
<path d="M555,145.3 A5.8,5.8 0 1 0 555,153.7 L557.3,149.5 Z" stroke-width="0.9"/>
<path d="M536,149.5 H566 M551,136.5 V162.5" stroke="#666" stroke-width="0.5"/>
</g>
<g fill="none" stroke="#3a3a3a">
<rect x="572.5" y="140" width="27" height="18" rx="3" stroke="#666" stroke-width="0.6"/>
<path d="M596.8,149.5 L598.35,150.58 L598.21,151.65 L596.43,152.3 L596.15,153.19 L597.24,154.74 L596.74,155.7 L594.85,155.69 L594.27,156.44 L594.77,158.27 L593.97,159 L592.19,158.35 L591.4,158.85 L591.24,160.74 L590.24,161.15 L588.8,159.93 L587.88,160.14 L587.08,161.85 L586,161.9 L585.06,160.26 L584.12,160.14 L582.79,161.48 L581.76,161.15 L581.44,159.29 L580.6,158.85 L578.89,159.66 L578.03,159 L578.36,157.14 L577.73,156.44 L575.84,156.61 L575.26,155.7 L576.21,154.06 L575.85,153.19 L574.02,152.71 L573.79,151.65 L575.24,150.44 L575.2,149.5 L573.65,148.42 L573.79,147.35 L575.57,146.7 L575.85,145.81 L574.76,144.26 L575.26,143.3 L577.15,143.31 L577.73,142.56 L577.23,140.73 L578.03,140 L579.81,140.65 L580.6,140.15 L580.76,138.26 L581.76,137.85 L583.2,139.07 L584.12,138.86 L584.92,137.15 L586,137.1 L586.94,138.74 L587.88,138.86 L589.21,137.52 L590.24,137.85 L590.56,139.71 L591.4,140.15 L593.11,139.34 L593.97,140 L593.64,141.86 L594.27,142.56 L596.16,142.39 L596.74,143.3 L595.79,144.94 L596.15,145.81 L597.98,146.29 L598.21,147.35 L596.76,148.56Z" stroke-width="0.7" fill="#fff"/>
<circle cx="586" cy="149.5" r="8.6" stroke-width="1.5"/>
<path d="M590,145.3 A5.8,5.8 0 1 0 590,153.7 L592.3,149.5 Z" stroke-width="0.9"/>
<path d="M571,149.5 H601 M586,136.5 V162.5" stroke="#666" stroke-width="0.5"/>
</g>
<g fill="none" stroke="#3a3a3a">
<rect x="602" y="140" width="27" height="18" rx="3" stroke="#666" stroke-width="0.6"/>
<path d="M626.3,149.5 L627.85,150.58 L627.71,151.65 L625.93,152.3 L625.65,153.19 L626.74,154.74 L626.24,155.7 L624.35,155.69 L623.77,156.44 L624.27,158.27 L623.47,159 L621.69,158.35 L620.9,158.85 L620.74,160.74 L619.74,161.15 L618.3,159.93 L617.38,160.14 L616.58,161.85 L615.5,161.9 L614.56,160.26 L613.62,160.14 L612.29,161.48 L611.26,161.15 L610.94,159.29 L610.1,158.85 L608.39,159.66 L607.53,159 L607.86,157.14 L607.23,156.44 L605.34,156.61 L604.76,155.7 L605.71,154.06 L605.35,153.19 L603.52,152.71 L603.29,151.65 L604.74,150.44 L604.7,149.5 L603.15,148.42 L603.29,147.35 L605.07,146.7 L605.35,145.81 L604.26,144.26 L604.76,143.3 L606.65,143.31 L607.23,142.56 L606.73,140.73 L607.53,140 L609.31,140.65 L610.1,140.15 L610.26,138.26 L611.26,137.85 L612.7,139.07 L613.62,138.86 L614.42,137.15 L615.5,137.1 L616.44,138.74 L617.38,138.86 L618.71,137.52 L619.74,137.85 L620.06,139.71 L620.9,140.15 L622.61,139.34 L623.47,140 L623.14,141.86 L623.77,142.56 L625.66,142.39 L626.24,143.3 L625.29,144.94 L625.65,145.81 L627.48,146.29 L627.71,147.35 L626.26,148.56Z" stroke-width="0.7" fill="#fff"/>
<circle cx="615.5" cy="149.5" r="8.6" stroke-width="1.5"/>
<path d="M619.5,145.3 A5.8,5.8 0 1 0 619.5,153.7 L621.8,149.5 Z" stroke-width="0.9"/>
<path d="M600.5,149.5 H630.5 M615.5,136.5 V162.5" stroke="#666" stroke-width="0.5"/>
</g>
<text transform="translate(371.3,80.6) scale(0.82,1)" style="font-family:'Liberation Serif',serif;font-size:22.5px;letter-spacing:0;fill:#111;stroke:#111;stroke-width:0.35px">4</text>
<text transform="translate(371,108.9) scale(0.82,1)" style="font-family:'Liberation Serif',serif;font-size:22.5px;letter-spacing:0;fill:#111;stroke:#111;stroke-width:0.35px">2</text>
<text transform="translate(371,140.2) scale(0.82,1)" style="font-family:'Liberation Serif',serif;font-size:22.5px;letter-spacing:0;fill:#111;stroke:#111;stroke-width:0.35px">5</text>
<text transform="translate(672.6,87.1) scale(0.82,1)" style="font-family:'Liberation Serif',serif;font-size:22.5px;letter-spacing:0;fill:#111;stroke:#111;stroke-width:0.35px">1</text>
<text transform="translate(673.6,117.6) scale(0.82,1)" style="font-family:'Liberation Serif',serif;font-size:22.5px;letter-spacing:0;fill:#111;stroke:#111;stroke-width:0.35px">3</text>
<text transform="translate(673.6,144.2) scale(0.82,1)" style="font-family:'Liberation Serif',serif;font-size:22.5px;letter-spacing:0;fill:#111;stroke:#111;stroke-width:0.35px">6</text>
<path d="M383,72.9 H386.5 L403.7,97.3 M384.4,101.1 H387 L399.2,109.5 M384,135.2 H389 L414,116.6 M667,84.5 L653,93 M669,110 L649.5,104 M669,138.7 L648,129.6" fill="none" stroke="#aaa" stroke-width="0.7"/>
<g fill="none" stroke="#3a3a3a" stroke-width="0.9">
<path d="M385.3,396 V461.2 H665.4 V396"/>
<path d="M460.8,461.2 V468.7 H609.6 V461.2"/>
<rect x="430.3" y="488.7" width="190.1" height="56.6" stroke="#666"/>
<path d="M430.3,517 H620.4 M430.3,521.5 H620.4" stroke="#aaa" stroke-width="0.6"/>
<path d="M451,440 V592 M591.5,440 V592" stroke="#aaa" stroke-width="0.5"/>
<path d="M465.5,468.7 V475 Q465.5,476.8 467.5,476.8 H491.5 Q493.5,476.8 493.5,475 V468.7" stroke-width="0.9"/>
<path d="M467.5,477.5 H491.5 M468.5,479.5 H490.5" stroke="#666" stroke-width="0.7"/>
<path d="M470.5,480 V485 M476.5,480 V485 M482.5,480 V485 M488.5,480 V485" stroke="#666" stroke-width="0.6"/>
<path d="M473,480 V498 Q473,501.5 476.5,501.5 H482.5 Q486,501.5 486,498 V480" stroke-width="0.8"/>
<path d="M473,517 V513.5 Q473,510 476.5,510 H482.5 Q486,510 486,513.5 V517" stroke-width="0.9"/>
<rect x="466" y="545.3" width="26.5" height="4.2" stroke="#666" stroke-width="0.8"/>
<path d="M469,549.5 V553 Q469,554.5 470.5,554.5 H488.5 Q490,554.5 490,553 V549.5" stroke-width="0.8"/>
<path d="M473,554.5 V570 M486,554.5 V570 M473,560 L486,555 M473,565 L486,560 M473,570 L486,565" stroke-width="0.9"/>
<path d="M471.5,570 H487.5 V574 Q485.5,577.8 479.5,577.8 Q473.5,577.8 471.5,574 Z" stroke-width="0.9"/>
<path d="M479.5,440 V591" stroke="#555" stroke-width="0.6"/>
<path d="M465,488.7 H473 M486,488.7 H493.5" stroke-width="1.2"/>
<path d="M493.5,468.7 V475 Q493.5,476.8 495.5,476.8 H519.5 Q521.5,476.8 521.5,475 V468.7" stroke-width="0.9"/>
<path d="M495.5,477.5 H519.5 M496.5,479.5 H518.5" stroke="#666" stroke-width="0.7"/>
<path d="M498.5,480 V485 M504.5,480 V485 M510.5,480 V485 M516.5,480 V485" stroke="#666" stroke-width="0.6"/>
<path d="M501,480 V498 Q501,501.5 504.5,501.5 H510.5 Q514,501.5 514,498 V480" stroke-width="0.8"/>
<path d="M501,517 V513.5 Q501,510 504.5,510 H510.5 Q514,510 514,513.5 V517" stroke-width="0.9"/>
<rect x="494" y="545.3" width="26.5" height="4.2" stroke="#666" stroke-width="0.8"/>
<path d="M497,549.5 V553 Q497,554.5 498.5,554.5 H516.5 Q518,554.5 518,553 V549.5" stroke-width="0.8"/>
<path d="M501,554.5 V570 M514,554.5 V570 M501,560 L514,555 M501,565 L514,560 M501,570 L514,565" stroke-width="0.9"/>
<path d="M499.5,570 H515.5 V574 Q513.5,577.8 507.5,577.8 Q501.5,577.8 499.5,574 Z" stroke-width="0.9"/>
<path d="M507.5,440 V591" stroke="#555" stroke-width="0.6"/>
<path d="M493,488.7 H501 M514,488.7 H521.5" stroke-width="1.2"/>
<path d="M521.5,468.7 V475 Q521.5,476.8 523.5,476.8 H547.5 Q549.5,476.8 549.5,475 V468.7" stroke-width="0.9"/>
<path d="M523.5,477.5 H547.5 M524.5,479.5 H546.5" stroke="#666" stroke-width="0.7"/>
<path d="M526.5,480 V485 M532.5,480 V485 M538.5,480 V485 M544.5,480 V485" stroke="#666" stroke-width="0.6"/>
<path d="M529,480 V498 Q529,501.5 532.5,501.5 H538.5 Q542,501.5 542,498 V480" stroke-width="0.8"/>
<path d="M529,517 V513.5 Q529,510 532.5,510 H538.5 Q542,510 542,513.5 V517" stroke-width="0.9"/>
<rect x="522" y="545.3" width="26.5" height="4.2" stroke="#666" stroke-width="0.8"/>
<path d="M525,549.5 V553 Q525,554.5 526.5,554.5 H544.5 Q546,554.5 546,553 V549.5" stroke-width="0.8"/>
<path d="M529,554.5 V570 M542,554.5 V570 M529,560 L542,555 M529,565 L542,560 M529,570 L542,565" stroke-width="0.9"/>
<path d="M527.5,570 H543.5 V574 Q541.5,577.8 535.5,577.8 Q529.5,577.8 527.5,574 Z" stroke-width="0.9"/>
<path d="M535.5,440 V591" stroke="#999" stroke-width="0.5"/>
<path d="M521,488.7 H529 M542,488.7 H549.5" stroke-width="1.2"/>
<path d="M549.5,468.7 V475 Q549.5,476.8 551.5,476.8 H575.5 Q577.5,476.8 577.5,475 V468.7" stroke-width="0.9"/>
<path d="M551.5,477.5 H575.5 M552.5,479.5 H574.5" stroke="#666" stroke-width="0.7"/>
<path d="M554.5,480 V485 M560.5,480 V485 M566.5,480 V485 M572.5,480 V485" stroke="#666" stroke-width="0.6"/>
<path d="M557,480 V498 Q557,501.5 560.5,501.5 H566.5 Q570,501.5 570,498 V480" stroke-width="0.8"/>
<path d="M557,517 V513.5 Q557,510 560.5,510 H566.5 Q570,510 570,513.5 V517" stroke-width="0.9"/>
<rect x="550" y="545.3" width="26.5" height="4.2" stroke="#666" stroke-width="0.8"/>
<path d="M553,549.5 V553 Q553,554.5 554.5,554.5 H572.5 Q574,554.5 574,553 V549.5" stroke-width="0.8"/>
<path d="M557,554.5 V570 M570,554.5 V570 M557,560 L570,555 M557,565 L570,560 M557,570 L570,565" stroke-width="0.9"/>
<path d="M555.5,570 H571.5 V574 Q569.5,577.8 563.5,577.8 Q557.5,577.8 555.5,574 Z" stroke-width="0.9"/>
<path d="M563.5,440 V591" stroke="#555" stroke-width="0.6"/>
<path d="M549,488.7 H557 M570,488.7 H577.5" stroke-width="1.2"/>
<path d="M577.5,468.7 V475 Q577.5,476.8 579.5,476.8 H603.5 Q605.5,476.8 605.5,475 V468.7" stroke-width="0.9"/>
<path d="M579.5,477.5 H603.5 M580.5,479.5 H602.5" stroke="#666" stroke-width="0.7"/>
<path d="M582.5,480 V485 M588.5,480 V485 M594.5,480 V485 M600.5,480 V485" stroke="#666" stroke-width="0.6"/>
<path d="M585,480 V498 Q585,501.5 588.5,501.5 H594.5 Q598,501.5 598,498 V480" stroke-width="0.8"/>
<path d="M585,517 V513.5 Q585,510 588.5,510 H594.5 Q598,510 598,513.5 V517" stroke-width="0.9"/>
<rect x="578" y="545.3" width="26.5" height="4.2" stroke="#666" stroke-width="0.8"/>
<path d="M581,549.5 V553 Q581,554.5 582.5,554.5 H600.5 Q602,554.5 602,553 V549.5" stroke-width="0.8"/>
<path d="M585,554.5 V570 M598,554.5 V570 M585,560 L598,555 M585,565 L598,560 M585,570 L598,565" stroke-width="0.9"/>
<path d="M583.5,570 H599.5 V574 Q597.5,577.8 591.5,577.8 Q585.5,577.8 583.5,574 Z" stroke-width="0.9"/>
<path d="M577,488.7 H585 M598,488.7 H605.5" stroke-width="1.2"/>
<path d="M430.3,488.7 H465 M605,488.7 H620.4" stroke-width="1.2"/>
</g>
<defs><clipPath id="pclip"><path d="M465,709.6 H574.1 L584.2,719.1 V774 H519 V840 H464 L453.6,830 V719 Z"/></clipPath></defs>
<g fill="none" stroke="#3a3a3a" stroke-width="0.9">
<g clip-path="url(#pclip)" stroke="#aaa" stroke-width="0.7"><circle cx="519" cy="774" r="50"/><circle cx="519" cy="774" r="42"/><circle cx="519" cy="774" r="70"/></g>
<path d="M519,840 H464 L453.6,830 V719 L465,709.6 H574.1 L584.2,719.1 V774" stroke-width="1"/>
<path d="M584.2,774 V719.1" stroke="#666" stroke-width="0.6"/>
<path d="M519,774 H687 Q692,775 690,780 Q683,795 685,810 Q685,828 663,841 H519 A33.5,33.5 0 0 1 519,774 Z" fill="#fff" stroke-width="0.9"/>
<path d="M579.5,785 H666.4 V830 H579.5 A22.5,22.5 0 0 1 579.5,785 Z" stroke-width="1"/>
<circle cx="519" cy="807.5" r="28" stroke="#3a3a3a" stroke-width="0.8" stroke-dasharray="3 1"/>
<circle cx="519" cy="807.5" r="20.5" stroke-width="0.9"/>
<circle cx="519" cy="807.5" r="18.8" stroke-width="0.8"/>
<circle cx="519" cy="807.5" r="5" stroke-width="0.8"/>
<path d="M444,774 H519 M484,807.5 H551 M519,703 V851" stroke="#666" stroke-width="0.6"/>
<circle cx="473.5" cy="721.5" r="8.5" stroke-width="0.7"/><circle cx="466.5" cy="728.5" r="8.5" stroke-width="0.7"/>
<circle cx="470" cy="725" r="8.2" stroke-width="0.7" fill="#fff"/>
<polygon points="476.5,725 473.25,730.63 466.75,730.63 463.5,725 466.75,719.37 473.25,719.37" stroke-width="0.8"/>
<path d="M452,725 H496 M470,708 V742" stroke="#aaa" stroke-width="0.6"/>
<circle cx="564.1" cy="721.5" r="8.5" stroke-width="0.7"/><circle cx="571.1" cy="728.5" r="8.5" stroke-width="0.7"/>
<circle cx="567.6" cy="725" r="8.2" stroke-width="0.7" fill="#fff"/>
<polygon points="574.1,725 570.85,730.63 564.35,730.63 561.1,725 564.35,719.37 570.85,719.37" stroke-width="0.8"/>
<path d="M549.6,725 H593.6 M567.6,708 V742" stroke="#aaa" stroke-width="0.6"/>
<circle cx="466.5" cy="819.5" r="8.5" stroke-width="0.7"/><circle cx="473.5" cy="826.5" r="8.5" stroke-width="0.7"/>
<circle cx="470" cy="823" r="8.2" stroke-width="0.7" fill="#fff"/>
<polygon points="476.5,823 473.25,828.63 466.75,828.63 463.5,823 466.75,817.37 473.25,817.37" stroke-width="0.8"/>
<path d="M452,823 H496 M470,806 V840" stroke="#aaa" stroke-width="0.6"/>
<path d="M487,679 L470,725 M562,684 L519,774" stroke="#666" stroke-width="0.6"/>
</g>
<text transform="translate(488,689) scale(0.85,1)" style="font-family:'Liberation Serif',serif;font-size:31px;letter-spacing:0;fill:#111;stroke:#111;stroke-width:0.35px">2</text>
<text transform="translate(561,693) scale(0.85,1)" style="font-family:'Liberation Serif',serif;font-size:31px;letter-spacing:0;fill:#111;stroke:#111;stroke-width:0.35px">3</text>
</svg>
</body></html>
